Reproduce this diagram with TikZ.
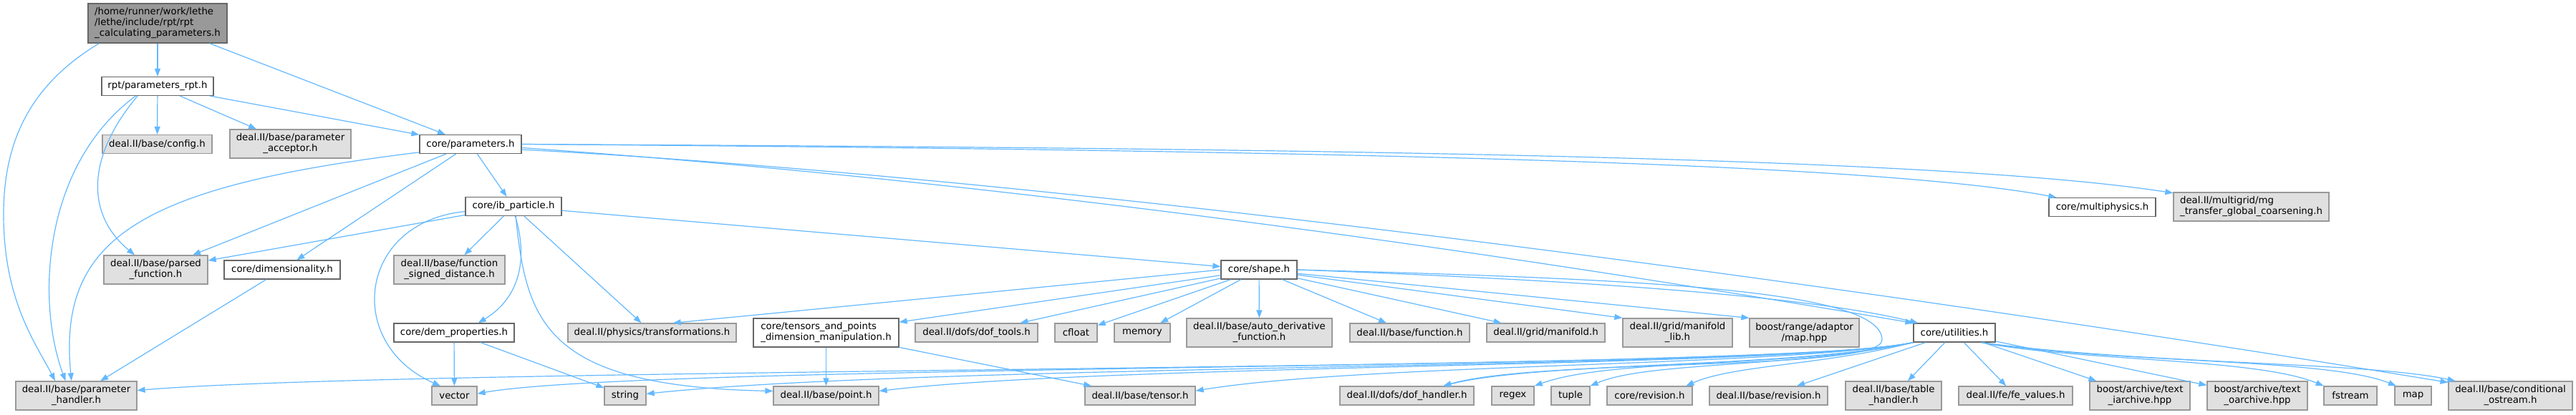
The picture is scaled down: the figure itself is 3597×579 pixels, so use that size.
\documentclass[tikz,border=0pt]{standalone}
\usepackage{fontspec}
\setmainfont{DejaVu Sans}
\usetikzlibrary{arrows.meta}
\definecolor{edgeblue}{HTML}{63B8FF}
\definecolor{extfill}{HTML}{E0E0E0}
\definecolor{extline}{HTML}{999999}
\definecolor{docline}{HTML}{666666}
\definecolor{rootfill}{HTML}{999999}

\begin{document}
\begin{tikzpicture}[x=1pt, y=-1pt,
    incl/.style={draw=edgeblue, line width=1.2pt, -{Triangle[length=11pt,width=8pt]}},
    filebox/.style={rectangle, line width=1.2pt, inner sep=0pt, minimum height=26pt, font=\fontsize{13.3}{15}\selectfont},
    docbox/.style={filebox, draw=docline, fill=white},
    extbox/.style={filebox, draw=extline, fill=extfill},
    rootbox/.style={filebox, draw=docline, fill=rootfill},
    tallbox/.style={minimum height=40pt, align=center}]
    \useasboundingbox (0,0) rectangle (3597,579);
    \node[rootbox, minimum width=194pt, minimum height=55pt, align=left] (root) at (220,32.5) {/home/runner/work/lethe\\/lethe/include/rpt/rpt\\\_calculating\_parameters.h};
    \node[docbox, minimum width=156pt] (rpt) at (220,120.5) {rpt/parameters\_rpt.h};
    \node[extbox, minimum width=153pt] (config) at (219.5,201.5) {deal.II/base/config.h};
    \node[extbox, tallbox, minimum width=169pt] (acceptor) at (405.5,201) {deal.II/base/parameter\\\_acceptor.h};
    \node[docbox, minimum width=142pt] (params) at (657,201.5) {core/parameters.h};
    \node[docbox, minimum width=134pt] (ibpart) at (717,288.5) {core/ib\_particle.h};
    \node[docbox, minimum width=149pt] (multiphys) at (2935.5,289.5) {core/multiphysics.h};
    \node[extbox, tallbox, minimum width=217pt, align=left] (mgtransfer) at (3143.5,289) {deal.II/multigrid/mg\\\_transfer\_global\_coarsening.h};
    \node[extbox, tallbox, minimum width=145pt] (parsedfn) at (217.5,377) {deal.II/base/parsed\\\_function.h};
    \node[docbox, minimum width=162pt] (dimens) at (394,377) {core/dimensionality.h};
    \node[extbox, tallbox, minimum width=155pt] (signeddist) at (627.5,377) {deal.II/base/function\\\_signed\_distance.h};
    \node[docbox, minimum width=106pt] (shape) at (1758,377) {core/shape.h};
    \node[docbox, minimum width=168pt] (dem) at (634,465) {core/dem\_properties.h};
    \node[extbox, minimum width=235pt] (transf) at (910.5,465) {deal.II/physics/transformations.h};
    \node[docbox, tallbox, minimum width=203pt, align=left] (tensorspts) at (1153.5,465) {core/tensors\_and\_points\\\_dimension\_manipulation.h};
    \node[extbox, minimum width=171pt] (doftools) at (1363.5,465) {deal.II/dofs/dof\_tools.h};
    \node[extbox, minimum width=59pt] (cfloat) at (1502.5,465) {cfloat};
    \node[extbox, minimum width=78pt] (memory) at (1595,465) {memory};
    \node[extbox, tallbox, minimum width=203pt] (autoderiv) at (1758.5,465) {deal.II/base/auto\_derivative\\\_function.h};
    \node[extbox, minimum width=167pt] (function) at (1968.5,465) {deal.II/base/function.h};
    \node[extbox, minimum width=165pt] (manifold) at (2158.5,465) {deal.II/grid/manifold.h};
    \node[extbox, tallbox, minimum width=153pt] (manifoldlib) at (2342.5,465) {deal.II/grid/manifold\\\_lib.h};
    \node[extbox, tallbox, minimum width=153pt] (adaptormap) at (2519.5,465) {boost/range/adaptor\\/map.hpp};
    \node[docbox, minimum width=114pt] (utilities) at (2729,465) {core/utilities.h};
    \node[extbox, tallbox, minimum width=169pt] (phandler) at (106.5,553) {deal.II/base/parameter\\\_handler.h};
    \node[extbox, minimum width=63pt] (vector) at (634.5,553) {vector};
    \node[extbox, minimum width=58pt] (string) at (873,553) {string};
    \node[extbox, minimum width=147pt] (point) at (1153.5,553) {deal.II/base/point.h};
    \node[extbox, minimum width=154pt] (tensor) at (1592,553) {deal.II/base/tensor.h};
    \node[extbox, minimum width=187pt] (dofhandler) at (1964.5,553) {deal.II/dofs/dof\_handler.h};
    \node[extbox, minimum width=59pt] (regex) at (2112.5,553) {regex};
    \node[extbox, minimum width=54pt] (tuple) at (2193,553) {tuple};
    \node[extbox, minimum width=119pt] (corerev) at (2303.5,553) {core/revision.h};
    \node[extbox, minimum width=165pt] (baserev) at (2469.5,553) {deal.II/base/revision.h};
    \node[extbox, tallbox, minimum width=134pt] (tablehandler) at (2644,553) {deal.II/base/table\\\_handler.h};
    \node[extbox, minimum width=159pt] (fevalues) at (2814.5,553) {deal.II/fe/fe\_values.h};
    \node[extbox, tallbox, minimum width=140pt] (iarchive) at (2988,553) {boost/archive/text\\\_iarchive.hpp};
    \node[extbox, tallbox, minimum width=140pt] (oarchive) at (3152,553) {boost/archive/text\\\_oarchive.hpp};
    \node[extbox, minimum width=74pt] (fstream) at (3282,553) {fstream};
    \node[extbox, minimum width=51pt] (stdmap) at (3369.5,553) {map};
    \node[extbox, tallbox, minimum width=173pt] (condostream) at (3505.5,553) {deal.II/base/conditional\\\_ostream.h};
    \draw[incl] (root) -- (rpt);
    \draw[incl] (root) -- (params);
    \draw[incl] (root.199) .. controls (40,120) and (5,200) .. (5,300) .. controls (5,420) and (50,480) .. (phandler.145);
    \draw[incl] (rpt) -- (config);
    \draw[incl] (rpt) -- (acceptor);
    \draw[incl] (rpt) -- (params);
    \draw[incl] (rpt.204) .. controls (60,230) and (50,420) .. (phandler.126);
    \draw[incl] (rpt.206) .. controls (120,220) and (120,300) .. (parsedfn.145);
    \draw[incl] (params.189) .. controls (200,260) and (80,330) .. (phandler.108);
    \draw[incl] (params) -- (parsedfn);
    \draw[incl] (params) -- (dimens);
    \draw[incl] (params) -- (ibpart);
    \draw[incl] (params.east) .. controls (1800,210) and (2600,225) .. (multiphys.168);
    \draw[incl] (params.east) .. controls (1800,207) and (2700,218) .. (mgtransfer.170);
    \draw[incl] (params.-4) .. controls (1500,260) and (2250,380) .. (utilities.north west);
    \draw[incl] (params.-6) .. controls (1500,250) and (2600,400) .. (condostream.168);
    \draw[incl] (dimens) -- (phandler);
    \draw[incl] (ibpart) -- (parsedfn);
    \draw[incl] (ibpart) -- (signeddist);
    \draw[incl] (ibpart.186) .. controls (500,310) and (480,480) .. (vector.145);
    \draw[incl] (ibpart.280) .. controls (740,370) and (720,420) .. (dem.22);
    \draw[incl] (ibpart.283) .. controls (735,450) and (760,540) .. (point.175);
    \draw[incl] (ibpart) -- (transf);
    \draw[incl] (ibpart) -- (shape);
    \draw[incl] (dem) -- (vector);
    \draw[incl] (dem) -- (string);
    \draw[incl] (shape.west) -- (transf.25);
    \draw[incl] (shape) -- (tensorspts);
    \draw[incl] (shape) -- (doftools);
    \draw[incl] (shape) -- (cfloat);
    \draw[incl] (shape) -- (memory);
    \draw[incl] (shape) -- (autoderiv);
    \draw[incl] (shape) -- (function);
    \draw[incl] (shape) -- (manifold);
    \draw[incl] (shape) -- (manifoldlib.north west);
    \draw[incl] (shape) -- (adaptormap.north west);
    \draw[incl] (shape.east) .. controls (2300,395) and (2550,420) .. (utilities.165);
    \draw[incl] (shape.east) .. controls (2300,390) and (2628,405) .. (2628,475) .. controls (2628,520) and (2150,500) .. (dofhandler.15);
    \draw[incl] (tensorspts) -- (point);
    \draw[incl] (tensorspts) -- (tensor);
    \draw[incl] (utilities.south west) .. controls (2500,520) and (600,512) .. (phandler.5);
    \draw[incl] (utilities.south west) .. controls (2500,518) and (900,508) .. (vector.5);
    \draw[incl] (utilities.south west) .. controls (2500,516) and (1300,508) .. (string.5);
    \draw[incl] (utilities.south west) .. controls (2500,514) and (1550,508) .. (point.5);
    \draw[incl] (utilities.south west) .. controls (2500,512) and (1900,508) .. (tensor.5);
    \draw[incl] (utilities.south west) .. controls (2500,515) and (2150,505) .. (dofhandler.15);
    \draw[incl] (utilities.south west) .. controls (2500,515) and (2250,500) .. (regex.north east);
    \draw[incl] (utilities.south west) .. controls (2500,515) and (2300,505) .. (tuple.north east);
    \draw[incl] (utilities.south west) .. controls (2550,510) and (2420,510) .. (corerev.15);
    \draw[incl] (utilities) -- (baserev.19);
    \draw[incl] (utilities) -- (tablehandler);
    \draw[incl] (utilities) -- (fevalues);
    \draw[incl] (utilities) -- (iarchive);
    \draw[incl] (utilities) -- (oarchive);
    \draw[incl] (utilities.-20) .. controls (2900,505) and (3150,500) .. (fstream.160);
    \draw[incl] (utilities.-20) .. controls (2950,508) and (3250,500) .. (stdmap.150);
    \draw[incl] (utilities.-20) .. controls (3000,510) and (3300,505) .. (condostream.165);
  \end{tikzpicture}
\end{document}
